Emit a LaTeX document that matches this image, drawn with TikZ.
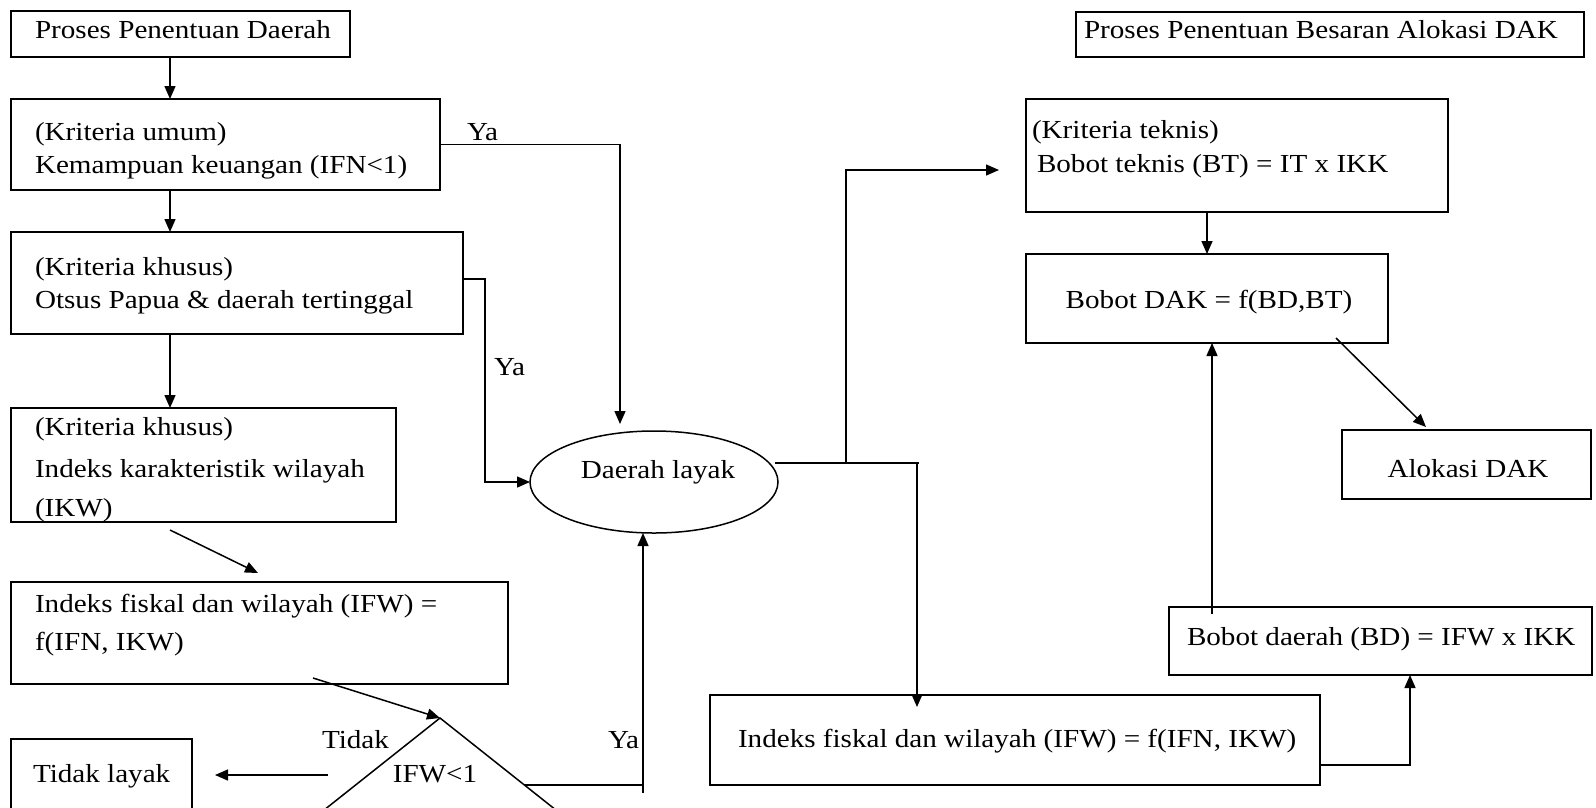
\documentclass[tikz,border=0pt]{standalone}
\usepackage{fontspec}
\setmainfont[FakeStretch=1.12]{Liberation Serif}
\usetikzlibrary{arrows.meta,shapes.geometric}
\begin{document}
\begin{tikzpicture}[x=1pt,y=-1pt,
  box/.style={draw,line width=1.6pt,inner sep=0pt,outer sep=0pt},
  txt/.style={inner sep=0pt,outer sep=0pt,anchor=base west,font=\fontsize{26}{32}\selectfont},
  ctxt/.style={txt,anchor=base},
  conn/.style={line width=1.5pt},
  arr/.style={conn,-{Triangle[length=13pt,width=11pt]}},
]
\fill[white] (0,0) rectangle (1596,807);
\useasboundingbox (0,0) rectangle (1596,807);
\clip (0,0) rectangle (1596,807);

% ---------- boxes ----------
\node[box,minimum width=339pt,minimum height=46pt] (A) at (180.5,34) {};
\node[box,minimum width=429pt,minimum height=91pt] (B) at (225.5,144.5) {};
\node[box,minimum width=452pt,minimum height=102pt] (C) at (237,283) {};
\node[box,minimum width=385pt,minimum height=114pt] (D) at (203.5,465) {};
\node[box,minimum width=497pt,minimum height=102pt] (E) at (259.5,633) {};
\node[box,minimum width=181pt,minimum height=91pt] (TL) at (101.5,784.5) {};
\node[draw,diamond,line width=1.5pt,inner sep=0pt,outer sep=0pt,minimum width=252pt,minimum height=200pt] (dm) at (440,818) {};
\node[draw,ellipse,line width=1.5pt,inner sep=0pt,outer sep=0pt,minimum width=248pt,minimum height=102pt] (el) at (654,482) {};
\node[box,minimum width=508pt,minimum height=45pt] (T2) at (1330,34.5) {};
\node[box,minimum width=422pt,minimum height=113pt] (KT) at (1237,155.5) {};
\node[box,minimum width=362pt,minimum height=89pt] (DAK) at (1207,298.5) {};
\node[box,minimum width=249pt,minimum height=69pt] (AL) at (1466.5,464.5) {};
\node[box,minimum width=423pt,minimum height=68pt] (BD) at (1380.5,641) {};
\node[box,minimum width=610pt,minimum height=90pt] (IR) at (1015,740) {};

% ---------- texts ----------
\node[txt] (tA) at (35,38) {Proses Penentuan Daerah};
\node[txt] (tB1) at (35,140) {(Kriteria umum)};
\node[txt] (tB2) at (35,173) {Kemampuan keuangan (IFN<1)};
\node[txt] (tC1) at (35,275) {(Kriteria khusus)};
\node[txt] (tC2) at (35,308) {Otsus Papua \& daerah tertinggal};
\node[txt] (tD1) at (35,435) {(Kriteria khusus)};
\node[txt] (tD2) at (35,477) {Indeks karakteristik wilayah};
\node[txt] (tD3) at (35,516) {(IKW)};
\node[txt] (tE1) at (35,612) {Indeks fiskal dan wilayah (IFW) =};
\node[txt] (tE2) at (35,650) {f(IFN, IKW)};
\node[txt] (tTL) at (33,782) {Tidak layak};
\node[ctxt] (tdm) at (435,782) {IFW<1};
\node[ctxt] (tel) at (658,478) {Daerah layak};
\node[txt] (tT2) at (1084,38) {Proses Penentuan Besaran Alokasi DAK};
\node[txt] (tKT1) at (1032,138) {(Kriteria teknis)};
\node[txt] (tKT2) at (1037,172) {Bobot teknis (BT) = IT x IKK};
\node[ctxt] (tDAK) at (1209,308) {Bobot DAK = f(BD,BT)};
\node[ctxt] (tAL) at (1468,477) {Alokasi DAK};
\node[txt] (tBD) at (1187,645) {Bobot daerah (BD) = IFW x IKK};
\node[txt] (tIR) at (738,747) {Indeks fiskal dan wilayah (IFW) = f(IFN, IKW)};

% ---------- connector labels ----------
\node[txt] (ya1) at (467,140) {Ya};
\node[txt] (ya2) at (494,375) {Ya};
\node[txt] (tidak) at (322,748) {Tidak};
\node[txt] (ya3) at (608,748) {Ya};

% ---------- helper coordinates ----------
\coordinate (x170) at (170,0);
\coordinate (x1207) at (1207,0);
\coordinate (x1410) at (1410,0);
\coordinate (de1) at (170,530);
\coordinate (de2) at (258,573);
\coordinate (ed1) at (313,678);
\coordinate (tk1) at (328,775);
\coordinate (tk2) at (215,775);
\coordinate (yb1) at (524,785);
\coordinate (yb2) at (643,785);
\coordinate (yb3) at (643,793);
\coordinate (yt) at (620,424);
\coordinate (c1) at (463,279);
\coordinate (c2) at (485,482);
\coordinate (r1) at (775,463);
\coordinate (r2) at (919,463);
\coordinate (r3) at (846,463);
\coordinate (kt1) at (999,170);
\coordinate (r4) at (917,463);
\coordinate (r5) at (917,707);
\coordinate (dk1) at (1336,338);
\coordinate (dk2) at (1426,427);
\coordinate (bd1) at (1212,614);
\coordinate (ir1) at (1320,765);

% ---------- connectors ----------
\draw[arr] (A.south -| x170) -- (B.north -| x170);
\draw[arr] (B.south -| x170) -- (C.north -| x170);
\draw[arr] (C.south -| x170) -- (D.north -| x170);
\draw[arr] (de1) -- (de2);
\draw[arr] (ed1) -- (dm.north);
\draw[arr] (tk1) -- (tk2);
\draw[conn] (yb1) -- (yb2);
\draw[arr] (yb3) -- (el.south -| yb3);
\draw[arr] (B.east) -| (yt);
\draw[arr] (c1) -| (c2) -- (el.west);
\draw[conn] (r1) -- (r2);
\draw[arr] (r3) |- (kt1);
\draw[arr] (r4) -- (r5);
\draw[arr] (KT.south -| x1207) -- (DAK.north -| x1207);
\draw[arr] (dk1) -- (dk2);
\draw[arr] (bd1) -- (DAK.south -| bd1);
\draw[arr] (ir1) -| (BD.south -| x1410);
\end{tikzpicture}
\end{document}
